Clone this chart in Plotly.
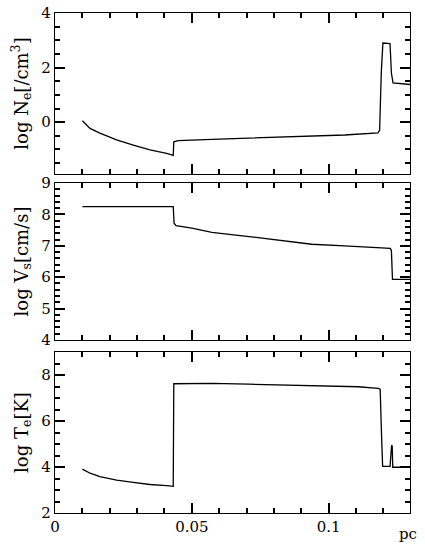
import plotly.graph_objects as go
from plotly.subplots import make_subplots

# ---- data ----
dens_x = [0.010, 0.0128, 0.0164, 0.0225, 0.0286, 0.0347, 0.0408, 0.0432, 0.0434, 0.0450,
          0.0573, 0.0816, 0.0938, 0.1058, 0.1180, 0.1186, 0.1192, 0.1198, 0.1224, 0.1229,
          0.1235, 0.1297]
dens_y = [0.05, -0.23, -0.40, -0.65, -0.84, -1.02, -1.14, -1.22, -0.72, -0.68,
          -0.63, -0.56, -0.51, -0.47, -0.39, -0.30, 1.80, 2.90, 2.88, 1.80,
          1.44, 1.38]

vel_x = [0.010, 0.0432, 0.0435, 0.0442, 0.0500, 0.0573, 0.0693, 0.0816, 0.0938, 0.1058,
         0.1180, 0.1225, 0.1229, 0.1233, 0.1297]
vel_y = [8.25, 8.25, 7.72, 7.64, 7.56, 7.43, 7.31, 7.18, 7.05, 7.00,
         6.94, 6.92, 6.85, 5.93, 5.93]

temp_x = [0.010, 0.0128, 0.0164, 0.0225, 0.0286, 0.0347, 0.0408, 0.0432, 0.0434, 0.0573,
          0.0707, 0.0914, 0.1108, 0.1181, 0.1188, 0.1193, 0.1197, 0.1224, 0.1230, 0.1232,
          0.1234, 0.1297]
temp_y = [3.91, 3.73, 3.58, 3.43, 3.33, 3.24, 3.19, 3.16, 7.62, 7.64,
          7.60, 7.53, 7.49, 7.42, 7.38, 5.40, 4.03, 4.03, 4.95, 4.90,
          3.99, 3.99]

x_range = [0, 0.1297]
x_ticks = [0, 0.05, 0.1]
x_ticklabels = ["0", "0.05", "0.1"]

titles = ["log N<sub>e</sub>[/cm<sup>3</sup>]", "log V<sub>s</sub>[cm/s]", "log T<sub>e</sub>[K]"]
y_ranges = [[-1.9, 4], [4, 9], [2, 9]]
y_dticks = [2, 1, 2]
y_minor = [0.5, 0.2, 0.5]

FONT = "DejaVu Serif"

fig = make_subplots(rows=3, cols=1, shared_xaxes=False, vertical_spacing=0.02)
series = [(dens_x, dens_y), (vel_x, vel_y), (temp_x, temp_y)]
domains = [[0.678, 1.0], [0.346, 0.66], [0.0, 0.322]]

for i, (xs, ys) in enumerate(series):
    fig.add_trace(go.Scatter(x=xs, y=ys, mode="lines", line=dict(color="black", width=1.3),
                             showlegend=False, hoverinfo="skip"), row=i + 1, col=1)
    fig.update_xaxes(showline=True, linecolor="black", linewidth=1.3, mirror="allticks",
                     ticks="inside", ticklen=10, tickwidth=1.5, tickcolor="rgb(0,0,0)",
                     showgrid=False, zeroline=False, automargin=False,
                     range=x_range, tickmode="array", tickvals=x_ticks, ticktext=x_ticklabels,
                     showticklabels=(i == 2),
                     minor=dict(dtick=0.01, tick0=0, ticks="inside", ticklen=5, tickwidth=1.5,
                                tickcolor="rgb(0,0,0)", showgrid=False),
                     row=i + 1, col=1)
    fig.update_yaxes(showline=True, linecolor="black", linewidth=1.3, mirror="allticks",
                     ticks="inside", ticklen=10, tickwidth=1.5, tickcolor="rgb(0,0,0)",
                     showgrid=False, zeroline=False, automargin=False,
                     range=y_ranges[i], domain=domains[i], tickmode="linear",
                     dtick=y_dticks[i], tick0=0,
                     title=dict(text=titles[i], standoff=8),
                     minor=dict(dtick=y_minor[i], tick0=0, ticks="inside", ticklen=5, tickwidth=1.5,
                                tickcolor="rgb(0,0,0)", showgrid=False),
                     row=i + 1, col=1)

fig.update_layout(width=425, height=546, margin=dict(l=55, r=15, t=13, b=33),
                  plot_bgcolor="white", paper_bgcolor="white", template="none",
                  font=dict(family=FONT, size=15, color="black"),
                  annotations=[dict(text="pc", xref="paper", yref="paper", x=1.0, y=0,
                                    xanchor="center", yanchor="top", yshift=-10, xshift=-2,
                                    showarrow=False)])
fig.write_html("out.html", config={"displayModeBar": False},
               post_script="document.body.style.margin='0';")
